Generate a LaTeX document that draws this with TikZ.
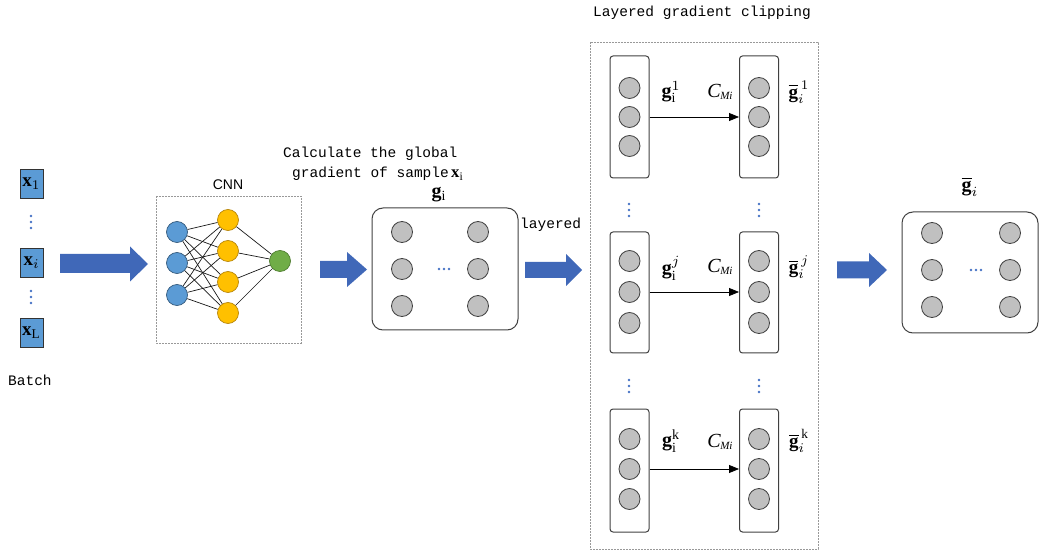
\documentclass[tikz,border=0pt]{standalone}
\usepackage{graphicx}
\usepackage{fontspec}
\setmainfont{Liberation Serif}
\newfontfamily\monofont{Liberation Mono}
\newfontfamily\sansfont{Liberation Sans}
\usetikzlibrary{arrows.meta}
\newcommand\grownmath[2]{\scalebox{#1}{$#2$}}
\newcommand\clipbound{{\fontsize{20}{20}\selectfont\itshape C\kern-0.5pt\raisebox{-0.3ex}{\fontsize{11}{11}\selectfont Mi}}}
\definecolor{nodeblue}{HTML}{5B9BD5}
\definecolor{nodeedge}{HTML}{41719C}
\definecolor{arrowblue}{HTML}{4068B8}
\definecolor{dotblue}{HTML}{4472C4}
\definecolor{nodeyellow}{HTML}{FFC000}
\definecolor{yellowedge}{HTML}{B8860B}
\definecolor{nodegreen}{HTML}{70AD47}
\definecolor{greenedge}{HTML}{507E32}
\definecolor{cellgrey}{HTML}{C0C0C0}
\begin{document}
\begin{tikzpicture}[x=1pt,y=-1pt,
  batchbox/.style={draw=black!80, fill=nodeblue, minimum width=23pt, minimum height=29pt, inner sep=0pt, line width=0.9pt},
  neuron/.style={circle, minimum size=21pt, inner sep=0pt, line width=0.7pt},
  inneuron/.style={neuron, draw=nodeedge!80!black, fill=nodeblue},
  hidneuron/.style={neuron, draw=yellowedge, fill=nodeyellow},
  outneuron/.style={neuron, draw=greenedge, fill=nodegreen},
  cell/.style={circle, draw=black!75, fill=cellgrey, minimum size=21pt, inner sep=0pt, line width=0.8pt},
  column/.style={draw=black!75, rounded corners=3pt, line width=1pt, minimum width=39pt, inner sep=0pt},
  panel/.style={draw=black!75, rounded corners=11pt, line width=1pt, inner sep=0pt},
  frame/.style={draw=black!40, dash pattern=on 2pt off 1pt, line width=0.7pt},
  synapse/.style={draw=black!90, line width=0.7pt},
  monotext/.style={font=\monofont\fontsize{14.5}{16}\selectfont, inner sep=0pt},
  mathlabel/.style={inner sep=0pt},
  fat/.style={fill=arrowblue},
  flow/.style={-{Triangle[length=10pt,width=8pt]}, line width=0.8pt, black},
  vdots/.pic={\foreach \d in {-6,0,6} \fill[dotblue] (0,\d) circle (1.4pt);},
  hdots/.pic={\foreach \d in {-5,0,5} \fill[dotblue] (\d,0) circle (1.3pt);}
]
\useasboundingbox (0,0) rectangle (1042,553);

% ---------- batch of samples ----------
\node[batchbox] (x1) at (31.5,183.5) {\grownmath{1.9}{\mathbf{x}_{1}}};
\pic at (31,222) {vdots};
\node[batchbox] (xi) at (31.5,262.5) {\grownmath{1.9}{\mathbf{x}_{i}}};
\pic at (31,297) {vdots};
\node[batchbox] (xL) at (31.5,333) {\grownmath{1.9}{\mathbf{x}_{\mathrm{L}}}};
\node[monotext, anchor=west] (batch) at (8,380) {Batch};

% ---------- block arrows ----------
\fill[fat] (60,254) -- (130,254) -- (130,246.5) -- (148,264) -- (130,281.5) -- (130,273) -- (60,273) -- cycle;
\fill[fat] (320,261) -- (347,261) -- (347,252) -- (367,269.5) -- (347,287) -- (347,278) -- (320,278) -- cycle;
\fill[fat] (525,262) -- (566,262) -- (566,254) -- (582,270) -- (566,286) -- (566,278) -- (525,278) -- cycle;
\fill[fat] (837,261.5) -- (869,261.5) -- (869,253) -- (887,270) -- (869,287) -- (869,278.5) -- (837,278.5) -- cycle;

% ---------- CNN ----------
\draw[frame] (156,196) rectangle (301,343);
\node[font=\sansfont\fontsize{14}{14}\selectfont] (cnn) at (228,185) {CNN};
\node[inneuron] (a1) at (177,232) {};
\node[inneuron] (a2) at (177,263) {};
\node[inneuron] (a3) at (177,295) {};
\node[hidneuron] (b1) at (228,220) {};
\node[hidneuron] (b2) at (228,251) {};
\node[hidneuron] (b3) at (228,282) {};
\node[hidneuron] (b4) at (228,313) {};
\node[outneuron] (c1) at (280,261) {};
\foreach \a in {a1,a2,a3}
  \foreach \b in {b1,b2,b3,b4}
    \draw[synapse] (\a) -- (\b);
\foreach \b in {b1,b2,b3,b4}
  \draw[synapse] (\b) -- (c1);

% ---------- global gradient ----------
\node[monotext, anchor=west] (calc1) at (283,154) {Calculate the global};
\node[monotext, anchor=west] (calc2) at (292,174) {gradient of sample\,\grownmath{1.15}{\mathbf{x}_{\mathrm{i}}}};
\node[panel, minimum width=146pt, minimum height=122pt] (G) at (445,269) {};
\node[mathlabel] (glab) at (439,195) {\grownmath{2}{\mathbf{g}_{\mathrm{i}}}};
\foreach \r/\y in {1/232,2/269,3/306} {
  \node[cell] (gl\r) at (402,\y) {};
  \node[cell] (gr\r) at (478,\y) {};
}
\pic at (444,269) {hdots};
\node[monotext, anchor=west] (layered) at (520,225) {layered};

% ---------- layered gradient clipping ----------
\node[monotext, anchor=west] (lgc) at (593,13) {Layered gradient clipping};
\draw[frame] (590,42) rectangle (818,549);

% layer 1
\node[column, minimum height=122pt] (L1) at (629.5,117) {};
\node[column, minimum height=122pt] (R1) at (759,117) {};
\foreach \r/\y in {1/88,2/117,3/146} {
  \node[cell] (L1c\r) at (629.5,\y) {};
  \node[cell] (R1c\r) at (759,\y) {};
}
\draw[flow] (L1.east |- L1c2) -- (R1.west |- L1c2);
\node[mathlabel] at (671,92) {\grownmath{2}{\mathbf{g}_{\mathrm{i}}^{1}}};
\node[mathlabel] at (720,92) {\clipbound};
\node[mathlabel] at (799,92) {\grownmath{1.9}{\overline{\mathbf{g}}_{i}^{\,1}}};

% layer j
\pic at (629,210) {vdots};
\pic at (759,210) {vdots};
\node[column, minimum height=121pt] (L2) at (629.5,292.5) {};
\node[column, minimum height=121pt] (R2) at (759,292.5) {};
\foreach \r/\y in {1/261,2/292,3/323} {
  \node[cell] (L2c\r) at (629.5,\y) {};
  \node[cell] (R2c\r) at (759,\y) {};
}
\draw[flow] (L2.east |- L2c2) -- (R2.west |- L2c2);
\node[mathlabel] at (671,268) {\grownmath{2}{\mathbf{g}_{\mathrm{i}}^{j}}};
\node[mathlabel] at (720,267) {\clipbound};
\node[mathlabel] at (799,267) {\grownmath{1.9}{\overline{\mathbf{g}}_{i}^{\,j}}};

% layer k
\pic at (629,386) {vdots};
\pic at (759,386) {vdots};
\node[column, minimum height=123pt] (L3) at (629.5,470.5) {};
\node[column, minimum height=123pt] (R3) at (759,470.5) {};
\foreach \r/\y in {1/439,2/469,3/499} {
  \node[cell] (L3c\r) at (629.5,\y) {};
  \node[cell] (R3c\r) at (759,\y) {};
}
\draw[flow] (L3.east |- L3c2) -- (R3.west |- L3c2);
\node[mathlabel] at (671,441) {\grownmath{2}{\mathbf{g}_{\mathrm{i}}^{\mathrm{k}}}};
\node[mathlabel] at (720,442) {\clipbound};
\node[mathlabel] at (799,441) {\grownmath{1.9}{\overline{\mathbf{g}}_{i}^{\,\mathrm{k}}}};

% ---------- clipped gradient ----------
\node[panel, minimum width=136pt, minimum height=121pt] (Gbar) at (970,272.5) {};
\node[mathlabel] (gbarlab) at (970,187) {\grownmath{2}{\overline{\mathbf{g}}_{i}}};
\foreach \r/\y in {1/233,2/270,3/307} {
  \node[cell] (bl\r) at (932,\y) {};
  \node[cell] (br\r) at (1010,\y) {};
}
\pic at (976,270) {hdots};
\end{tikzpicture}
\end{document}
